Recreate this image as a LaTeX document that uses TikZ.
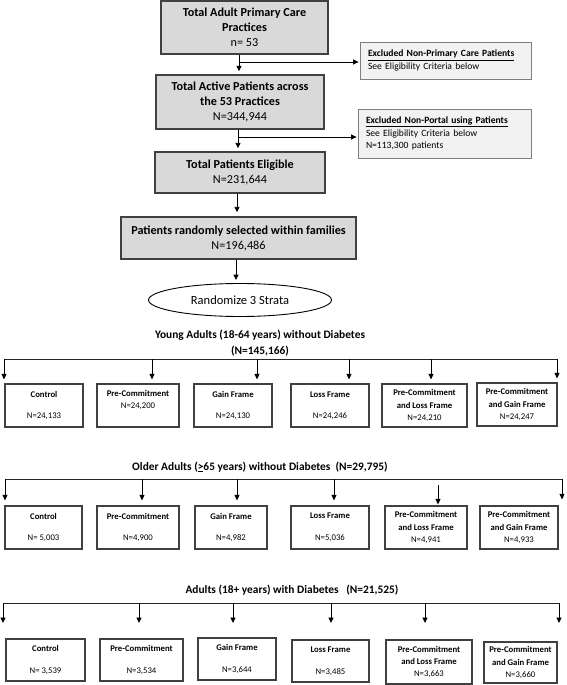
\documentclass[tikz,border=0pt]{standalone}
\usepackage{fontspec}
\setmainfont{Carlito}
\usetikzlibrary{arrows.meta,shapes.geometric}
\definecolor{mainfill}{HTML}{D9D9D9}
\definecolor{mainedge}{HTML}{404040}
\definecolor{exclfill}{HTML}{F2F2F2}
\definecolor{excledge}{HTML}{7F7F7F}
\begin{document}
\begin{tikzpicture}[x=1pt,y=-1pt,
  mainbox/.style={draw=mainedge, line width=1.4pt, fill=mainfill, align=center,
    font=\bfseries\fontsize{12.2}{15}\selectfont, inner sep=0pt},
  exclbox/.style={draw=excledge, line width=0.8pt, fill=exclfill, align=left,
    font=\fontsize{9.6}{12.5}\selectfont, inner sep=0pt},
  armbox/.style={draw=mainedge, line width=1.2pt, fill=white, align=center,
    font=\fontsize{8.7}{12.3}\selectfont, inner sep=0pt},
  arr/.style={-{Triangle[length=5.5pt,width=5pt]}, line width=0.9pt, draw=black},
  rowline/.style={line width=0.9pt, draw=black!85},
  ttl/.style={font=\bfseries\fontsize{11.4}{16}\selectfont, inner sep=0pt, align=center}
]
\useasboundingbox (0,0) rectangle (566,685);

% ---------- top part ----------
\node[mainbox, minimum width=167pt, minimum height=53pt] (b1) at (244.5,27.5)
  {Total Adult Primary Care\\Practices\\\mdseries n= 53};
\node[exclbox, minimum width=171pt, minimum height=37pt, text width=155pt] (e1) at (445.5,60.5)
  {\textbf{\underline{Excluded Non-Primary Care Patients}}\\See Eligibility Criteria below};
\node[mainbox, minimum width=168pt, minimum height=54pt] (b2) at (240,102)
  {Total Active Patients across\\the 53 Practices\\\mdseries N=344,944};
\node[exclbox, minimum width=173pt, minimum height=49pt, text width=157pt] (e2) at (444.5,133.5)
  {\textbf{\underline{Excluded Non-Portal using Patients}}\\See Eligibility Criteria below\\N=113,300 patients};
\node[mainbox, minimum width=170pt, minimum height=41pt] (b3) at (240,172.5)
  {Total Patients Eligible\\\mdseries N=231,644};
\node[mainbox, minimum width=235pt, minimum height=42pt] (b4) at (238.5,238)
  {Patients randomly selected within families\\\mdseries N=196,486};
\node[ellipse, draw=black, line width=0.9pt, minimum width=183pt, minimum height=33pt,
  inner sep=0pt, font=\fontsize{12.5}{14}\selectfont] (rnd) at (240,300) {Randomize 3 Strata};

\coordinate (j1) at (239,62);
\coordinate (j2) at (238,137);
\coordinate (j3) at (237,200);
\coordinate (j4) at (236,270);
\draw[arr, shorten >=3pt] (b1.south -| j1) -- (b2.north -| j1);
\draw[arr, shorten >=1pt] (j1) -- (e1.west |- j1);
\draw[arr, shorten >=3pt] (b2.south -| j2) -- (b3.north -| j2);
\draw[arr, shorten >=1pt] (j2) -- (e2.west |- j2);
\draw[arr, shorten >=4pt] (b3.south -| j3) -- (b4.north -| j3);
\draw[arr, shorten >=3pt] (b4.south -| j4) -- (rnd.north -| j4);

% ---------- stratum 1 ----------
\node[ttl] (t1) at (260,343) {Young Adults (18-64 years) without Diabetes\\(N=145,166)};
\node[armbox, minimum width=78pt, minimum height=43pt] (r1c1) at (44,405.5)
  {\textbf{Control}\\[8.7pt]N=24,133};
\node[armbox, minimum width=82pt, minimum height=43pt] (r1c2) at (138,405.5)
  {\textbf{Pre-Commitment}\\N=24,200\\\mbox{}};
\node[armbox, minimum width=78pt, minimum height=43pt] (r1c3) at (233,405.5)
  {\textbf{Gain Frame}\\[8.7pt]N=24,130};
\node[armbox, minimum width=78pt, minimum height=43pt] (r1c4) at (330,405.5)
  {\textbf{Loss Frame}\\[8.7pt]N=24,246};
\node[armbox, minimum width=85pt, minimum height=43pt] (r1c5) at (424.5,405.5)
  {\textbf{Pre-Commitment}\\\textbf{and Loss Frame}\\N=24,210};
\node[armbox, minimum width=80pt, minimum height=43pt] (r1c6) at (517,404.5)
  {\textbf{Pre-Commitment}\\\textbf{and Gain Frame}\\N=24,247};
\coordinate (l1a) at (4,359);
\coordinate (l1b) at (557,359);
\draw[rowline] (l1a) -- (l1b);
\foreach \x/\n in {4/1,152/2,257/3,349/4,431/5,557/6}{
  \coordinate (s1\n) at (\x,359);
  \draw[arr, shorten >=4pt] (s1\n) -- (s1\n |- r1c\n.north);
}

% ---------- stratum 2 ----------
\node[ttl] (t2) at (260,467) {Older Adults (\underline{>}65 years) without Diabetes\ \ (N=29,795)};
\node[armbox, minimum width=77pt, minimum height=43pt] (r2c1) at (43.5,527.5)
  {\textbf{Control}\\[9.5pt]N= 5,003};
\node[armbox, minimum width=82pt, minimum height=43pt] (r2c2) at (138,527.5)
  {\textbf{Pre-Commitment}\\[9.5pt]N=4,900};
\node[armbox, minimum width=72pt, minimum height=43pt] (r2c3) at (231,527.5)
  {\textbf{Gain Frame}\\[9.5pt]N=4,982};
\node[armbox, minimum width=78pt, minimum height=43pt] (r2c4) at (330,527.5)
  {\textbf{Loss Frame}\\[9.5pt]N=5,036};
\node[armbox, minimum width=82pt, minimum height=43pt] (r2c5) at (426,527.5)
  {\textbf{Pre-Commitment}\\\textbf{and Loss Frame}\\N=4,941};
\node[armbox, minimum width=78pt, minimum height=43pt] (r2c6) at (519,527.5)
  {\textbf{Pre-Commitment}\\\textbf{and Gain Frame}\\N=4,933};
\coordinate (l2a) at (5,479);
\coordinate (l2b) at (562,479);
\draw[rowline] (l2a) -- (l2b);
\foreach \x/\n/\y/\s in {5/1/479/5,142/2/479/5,237/3/479/5,334/4/479/5,438/5/485/1,562/6/479/6}{
  \coordinate (s2\n) at (\x,\y);
  \draw[arr, shorten >=\s pt] (s2\n) -- (s2\n |- r2c\n.north);
}

% ---------- stratum 3 ----------
\node[ttl] (t3) at (292,590) {Adults (18+ years) with Diabetes\ \ \ (N=21,525)};
\node[armbox, minimum width=79pt, minimum height=42pt] (r3c1) at (45.5,660)
  {\textbf{Control}\\[9.5pt]N= 3,539};
\node[armbox, minimum width=83pt, minimum height=42pt] (r3c2) at (141.5,660)
  {\textbf{Pre-Commitment}\\[9.5pt]N=3,534};
\node[armbox, minimum width=78pt, minimum height=42pt] (r3c3) at (237,659)
  {\textbf{Gain Frame}\\[9.5pt]N=3,644};
\node[armbox, minimum width=77pt, minimum height=42pt] (r3c4) at (330.5,661)
  {\textbf{Loss Frame}\\[9.5pt]N=3,485};
\node[armbox, minimum width=86pt, minimum height=44pt] (r3c5) at (429,662)
  {\textbf{Pre-Commitment}\\\textbf{and Loss Frame}\\N=3,663};
\node[armbox, minimum width=73pt, minimum height=41pt] (r3c6) at (520.5,662.5)
  {\textbf{Pre-Commitment}\\\textbf{and Gain Frame}\\N=3,660};
\coordinate (l3a) at (3,603);
\coordinate (l3b) at (559,603);
\draw[rowline] (l3a) -- (l3b);
\foreach \x/\n in {3/1,139/2,233/3,331/4,425/5,559/6}{
  \coordinate (s3\n) at (\x,603);
  \coordinate (e3\n) at (\x,623);
  \draw[arr] (s3\n) -- (e3\n);
}
\end{tikzpicture}
\end{document}
